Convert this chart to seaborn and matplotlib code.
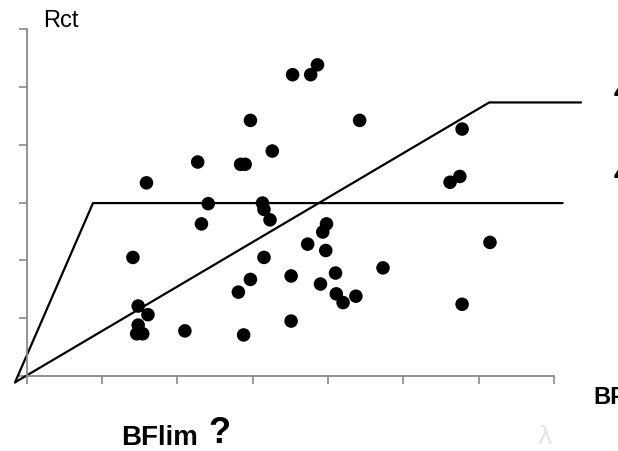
import matplotlib
matplotlib.use("Agg")
import matplotlib.pyplot as plt
import seaborn as sns
import pandas as pd

# ---- data ----
bf = [3.53, 3.77, 3.86, 2.97, 4.42, 3.26, 2.27, 2.84, 2.90, 1.59,
      2.41, 3.13, 3.15, 3.23, 2.32, 3.98, 3.93, 3.73, 3.97, 1.41,
      3.15, 4.73, 4.10, 3.51, 2.97, 3.90, 2.81, 4.11, 4.37, 4.20,
      1.48, 1.61, 3.51, 1.48, 2.10, 1.46, 1.54, 2.88, 5.78, 5.75,
      5.62, 6.15, 5.78]
rct = [5.21, 5.21, 5.38, 4.42, 4.42, 3.89, 3.70, 3.66, 3.66, 3.34,
       2.98, 2.99, 2.88, 2.70, 2.63, 2.63, 2.49, 2.28, 2.17, 2.05,
       2.05, 1.87, 1.78, 1.73, 1.67, 1.59, 1.45, 1.42, 1.38, 1.27,
       1.21, 1.06, 0.95, 0.88, 0.78, 0.73, 0.73, 0.71, 4.27, 3.45,
       3.35, 2.31, 1.24]

# threshold curves
flat_x = [-0.155, 0.88, 7.115]
flat_y = [-0.11, 2.99, 2.99]
ramp_x = [-0.155, 6.14, 7.36]
ramp_y = [-0.11, 4.73, 4.73]

x_ticks = list(range(0, 8))
y_ticks = list(range(0, 7))

df = pd.DataFrame({"BF": bf, "Rct": rct})

sns.set_theme(style="white")
plt.rcParams["font.family"] = ["Liberation Sans", "DejaVu Sans"]

W, H = 618, 451
fig = plt.figure(figsize=(W / 100, H / 100), dpi=100)
ax = fig.add_axes([26.7 / W, 1 - 376 / H, (554 - 26.7) / W, (376 - 29) / H])

sns.scatterplot(data=df, x="BF", y="Rct", ax=ax, color="black", s=95,
                edgecolor="none", zorder=3, clip_on=False)
ax.plot(flat_x, flat_y, color="black", lw=1.6, clip_on=False, zorder=2)
ax.plot(ramp_x, ramp_y, color="black", lw=1.6, clip_on=False, zorder=2)

ax.set_xlim(0, 7)
ax.set_ylim(0, 6)
ax.set_xticks(x_ticks)
ax.set_yticks(y_ticks)
ax.set_xticklabels([])
ax.set_yticklabels([])
ax.set_xlabel("")
ax.set_ylabel("")
for s in ["top", "right"]:
    ax.spines[s].set_visible(False)
for s in ["left", "bottom"]:
    ax.spines[s].set_color("#8a8a8a")
    ax.spines[s].set_linewidth(1.3)
ax.tick_params(axis="both", direction="out", length=5.5, width=1.2,
               color="#8a8a8a", bottom=True, left=True)

def fx(px):
    return px / W

def fy(py):
    return 1 - py / H

fig.text(fx(43), fy(27), "Rct", fontsize=17, ha="left", va="baseline", color="black")
fig.text(fx(593), fy(404), "BF", fontsize=17, fontweight="bold", ha="left",
         va="baseline", color="black")
fig.text(fx(121), fy(445), "BFlim", fontsize=20, fontweight="bold", ha="left",
         va="baseline", color="black")
fig.text(fx(208), fy(443), "?", fontsize=26, fontweight="bold", ha="left",
         va="baseline", color="black")
fig.text(fx(614), fy(100), "4", fontsize=20, fontweight="bold", ha="left",
         va="baseline", color="black")
fig.text(fx(614), fy(182), "4", fontsize=20, fontweight="bold", ha="left",
         va="baseline", color="black")
fig.text(fx(537), fy(444), "λ", fontsize=18, ha="left", va="baseline",
         color="#e4e4e4", family=["DejaVu Sans"])

fig.savefig("out.png", dpi=100)
